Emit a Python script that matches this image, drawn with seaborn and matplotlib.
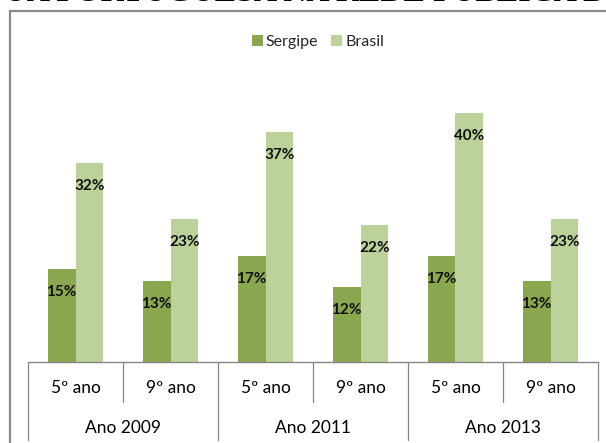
import pandas as pd
import matplotlib.pyplot as plt
import seaborn as sns
from matplotlib.patches import Rectangle

# data
series = ["Sergipe", "Brasil"]
sub_labels = ["5º ano", "9º ano", "5º ano", "9º ano", "5º ano", "9º ano"]
group_labels = ["Ano 2009", "Ano 2011", "Ano 2013"]
sergipe = [15, 13, 17, 12, 17, 13]
brasil = [32, 23, 37, 22, 40, 23]
colors = ["#8aa64f", "#bdd19b"]

cats = [f"{g}|{s}" for g in group_labels for s in ["5º ano", "9º ano"]]
df = pd.DataFrame({
    "cat": cats * 2,
    "serie": ["Sergipe"] * 6 + ["Brasil"] * 6,
    "valor": sergipe + brasil,
})

sns.set_style("white")
plt.rcParams["font.family"] = ["Lato", "DejaVu Sans"]

W, H = 606, 443
fig = plt.figure(figsize=(W / 100, H / 100), dpi=100)
# axes: x 28..598 px, baseline at 362 px, top at 60 px
ax = fig.add_axes([28 / W, 1 - 362 / H, 570 / W, 302 / H])

sns.barplot(data=df, x="cat", y="valor", hue="serie", hue_order=series,
            palette=colors, width=0.58, gap=0, saturation=1, ax=ax,
            legend=True, edgecolor="none")

ax.set_ylim(0, 48.5)
ax.set_xlim(-0.5, 5.5)
ax.set_xlabel("")
ax.set_ylabel("")
ax.set_xticks([])
ax.set_yticks([])
for s in ["left", "right", "top"]:
    ax.spines[s].set_visible(False)
ax.spines["bottom"].set_color("#868686")
ax.spines["bottom"].set_linewidth(1.0)

# value labels inside the bars, near the top
for cont in ax.containers:
    for p in cont:
        v = p.get_height()
        ax.text(p.get_x() + p.get_width() / 2, v - 3.7, f"{v:.0f}%",
                ha="center", va="center", fontsize=11, fontweight="bold",
                color="#111111")

# two-level category table under the axis
tr = ax.get_xaxis_transform()
lc = "#868686"
for x in [0.5, 2.5, 4.5]:
    ax.plot([x, x], [0, -0.1325], color=lc, lw=0.9, transform=tr, clip_on=False)
for x in [-0.5, 1.5, 3.5, 5.5]:
    ax.plot([x, x], [0, -0.258], color=lc, lw=0.9, transform=tr, clip_on=False)
for i, lab in enumerate(sub_labels):
    ax.text(i, -0.086, lab, ha="center", va="center", fontsize=12.5,
            color="#000000", transform=tr)
for j, lab in enumerate(group_labels):
    ax.text(2 * j + 0.5, -0.2185, lab, ha="center", va="center", fontsize=12.5,
            color="#000000", transform=tr)

# legend on top
ax.legend(loc="center", bbox_to_anchor=(318 / W, 1 - 42 / H),
          bbox_transform=fig.transFigure, ncol=2, frameon=False,
          handlelength=0.7, handleheight=0.7, handletextpad=0.2,
          columnspacing=0.8, fontsize=11.5)

# outer chart border (runs off the right and bottom edges)
fig.add_artist(Rectangle((10 / W, -0.2), 1.2, 0.2 + (1 - 10.5 / H),
                         transform=fig.transFigure, fill=False,
                         edgecolor="#8a8a8a", lw=1.6))

# cropped heading at the very top
fig.text(0.5, 1 - 1.2 / H, "GUA PORTUGUESA NA REDE PÚBLICA DE", ha="center",
         va="baseline", fontsize=23, fontweight="bold",
         family=["Liberation Serif", "DejaVu Serif"], color="#000000")

fig.savefig("out.png", dpi=100)
